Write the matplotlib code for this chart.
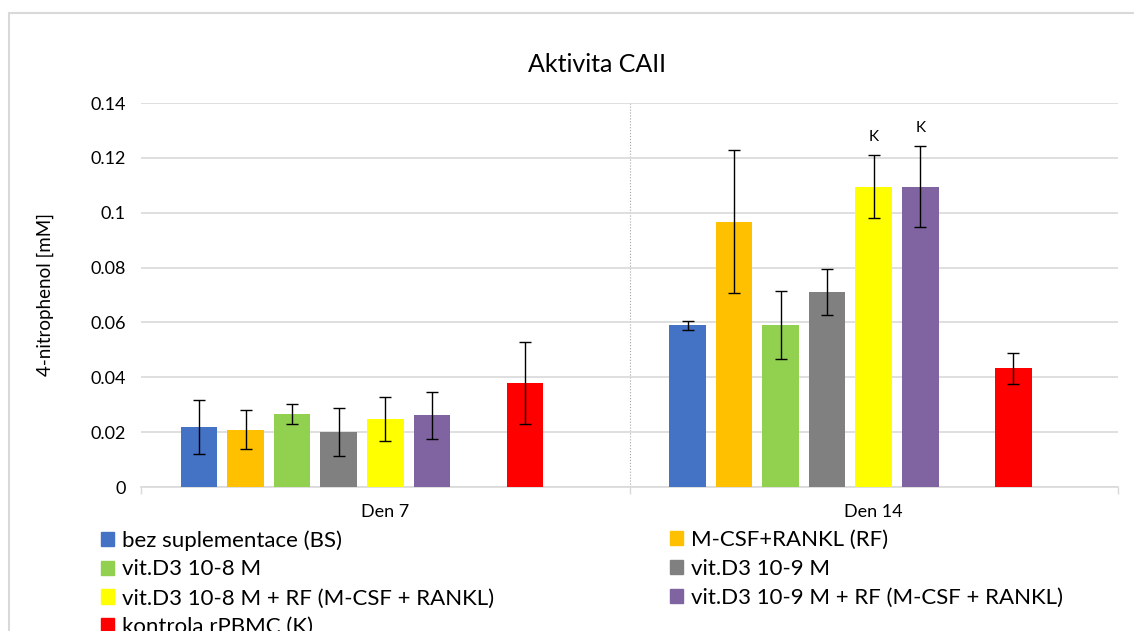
import numpy as np
import matplotlib
matplotlib.use("Agg")
import matplotlib.pyplot as plt
from matplotlib.patches import Patch, Rectangle

plt.rcParams["font.family"] = ["Lato", "DejaVu Sans"]

# ----------------------------
# Data
# ----------------------------
days = ["Den 7", "Den 14"]
series = [
    "bez suplementace (BS)",
    "M-CSF+RANKL (RF)",
    "vit.D3 10-8 M",
    "vit.D3 10-9 M",
    "vit.D3 10-8 M + RF (M-CSF + RANKL)",
    "vit.D3 10-9 M + RF (M-CSF + RANKL)",
    "kontrola rPBMC (K)",
]
colors = ["#4472c4", "#ffc000", "#92d050", "#808080", "#ffff00", "#8064a2", "#ff0000"]

den7 = [0.0219, 0.0208, 0.0266, 0.0200, 0.0248, 0.0262, 0.0378]
den7_err = [0.0100, 0.0071, 0.0038, 0.0087, 0.0079, 0.0086, 0.0150]
den14 = [0.0590, 0.0967, 0.0590, 0.0711, 0.1095, 0.1095, 0.0433]
den14_err = [0.0017, 0.0261, 0.0123, 0.0084, 0.0115, 0.0148, 0.0056]
den14_marks = ["", "", "", "", "K", "K", ""]

yticks = [0, 0.02, 0.04, 0.06, 0.08, 0.1, 0.12, 0.14]

# ----------------------------
# Layout
# ----------------------------
W, H = 1134, 631
fig = plt.figure(figsize=(W / 100, H / 100), dpi=100)
ax = fig.add_axes([141 / W, 1 - 487 / H, (1118 - 141) / W, (487 - 103) / H])

GRID = "#d9d9d9"
slot = 46.5 / 488
bar_w = 36.5 / 488
slot_idx = [0, 1, 2, 3, 4, 5, 7]  # one empty slot before the control
x_day = np.arange(len(days))

values = np.array([den7, den14]).T
errors = np.array([den7_err, den14_err]).T

for i, name in enumerate(series):
    xs = x_day + (slot_idx[i] - 4) * slot
    ax.bar(xs, values[i], bar_w, color=colors[i], label=name, zorder=3,
           yerr=errors[i], capsize=4,
           error_kw=dict(ecolor="black", elinewidth=1, capthick=1, zorder=4))
    if den14_marks[i]:
        ax.annotate(den14_marks[i], (xs[1], values[i][1] + errors[i][1]),
                    xytext=(0, 8), textcoords="offset points",
                    ha="center", va="bottom", fontsize=11)

ax.set_xlim(-0.5, 1.5)
ax.set_ylim(0, 0.14)
ax.set_yticks(yticks)
ax.set_yticklabels([f"{v:g}" for v in yticks])
ax.set_xticks(x_day)
ax.set_xticklabels(days)
ax.set_xticks([-0.5, 0.5, 1.5], minor=True)
ax.tick_params(axis="x", which="major", length=0, pad=12, labelsize=13)
ax.tick_params(axis="x", which="minor", length=5, color=GRID, width=1)
ax.tick_params(axis="y", length=0, pad=11, labelsize=13)

ax.grid(axis="y", color=GRID, lw=1.2, zorder=0)
ax.axvline(0.5, color="#a6a6a6", lw=0.8, ls=":", zorder=1)
for s in ["top", "right", "left"]:
    ax.spines[s].set_visible(False)
ax.spines["bottom"].set_color(GRID)
ax.spines["bottom"].set_linewidth(1.2)

# titles
fig.text(597 / W, 1 - 65 / H, "Aktivita CAII", ha="center", va="center", fontsize=18)
fig.text(45 / W, 1 - 295 / H, "4-nitrophenol [mM]", rotation=90,
         ha="center", va="center", fontsize=13.5)

# legend, two columns placed separately
handles = [Patch(color=c) for c in colors]
left_ids = [0, 2, 4, 6]
right_ids = [1, 3, 5]
for ids, x0 in [(left_ids, 101), (right_ids, 670)]:
    leg = fig.legend([handles[i] for i in ids], [series[i] for i in ids],
                     loc="upper left", bbox_to_anchor=(x0 / W, 1 - 530 / H),
                     frameon=False, borderpad=0, borderaxespad=0,
                     fontsize=16, handlelength=0.6, handleheight=0.6,
                     handletextpad=0.35, labelspacing=0.4)

# chart border
fig.patches.append(Rectangle((9 / W, -0.1), 1.2, 1.1 - 13 / H, transform=fig.transFigure,
                             fill=False, edgecolor=GRID, lw=1.5))

fig.savefig("out.png", dpi=100)
